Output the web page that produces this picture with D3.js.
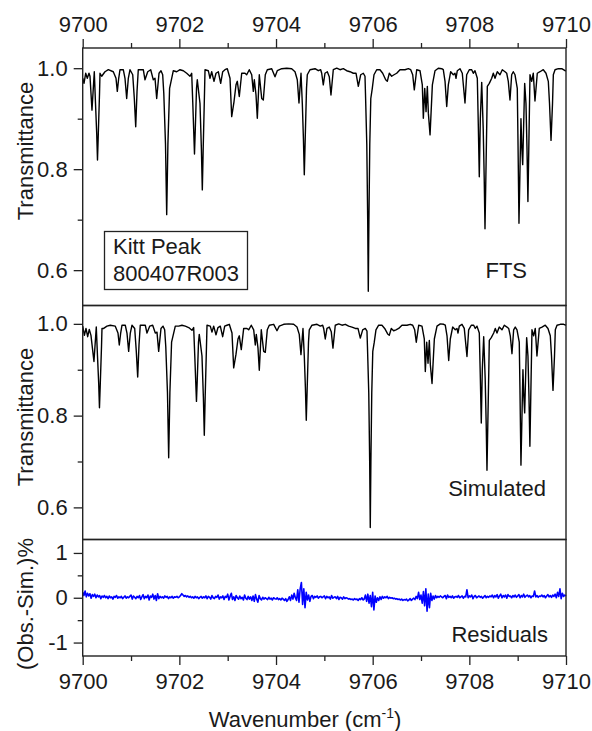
<!DOCTYPE html>
<html>
<head>
<meta charset="utf-8">
<script src="https://cdn.jsdelivr.net/npm/d3@7"></script>
<style>
  body { margin: 0; background: #fff; }
  svg { display: block; font-family: 'Liberation Sans', Arial, sans-serif; }
</style>
</head>
<body>
<svg width="592" height="731"></svg>
<script>
const xTicks = [9700, 9702, 9704, 9706, 9708, 9710]
const xMinor = [9701, 9703, 9705, 9707, 9709]
const tTicks = [0.6, 0.8, 1.0]
const tMinor = [0.7, 0.9]
const rTicks = [-1, 0, 1]
const rMinor = [-0.5, 0.5]

// observed FTS spectrum, [wavenumber, transmittance]
const ftsSpectrum = [
  [9700.000, 0.980], [9700.027, 0.970], [9700.062, 0.990], [9700.095, 0.980], [9700.130, 0.990],
  [9700.151, 0.984], [9700.192, 0.917], [9700.240, 0.993], [9700.265, 0.930], [9700.290, 0.870],
  [9700.306, 0.818], [9700.323, 0.870], [9700.348, 0.950], [9700.358, 0.990], [9700.393, 0.984],
  [9700.461, 0.993], [9700.530, 0.997], [9700.633, 0.993], [9700.689, 0.980], [9700.716, 0.954],
  [9700.745, 0.980], [9700.772, 0.997], [9700.840, 0.997], [9700.875, 0.980], [9700.910, 0.940],
  [9700.944, 0.980], [9700.979, 0.997], [9701.035, 0.987], [9701.068, 0.940], [9701.097, 0.884],
  [9701.124, 0.954], [9701.150, 0.997], [9701.254, 0.997], [9701.289, 0.977], [9701.345, 0.993],
  [9701.407, 0.997], [9701.461, 0.977], [9701.496, 0.980], [9701.531, 0.940], [9701.579, 0.990],
  [9701.620, 0.995], [9701.655, 0.987], [9701.678, 0.950], [9701.713, 0.850], [9701.738, 0.710],
  [9701.763, 0.850], [9701.798, 0.960], [9701.875, 0.995], [9701.945, 0.993], [9702.013, 0.997],
  [9702.082, 0.995], [9702.152, 0.990], [9702.220, 0.984], [9702.255, 0.990], [9702.278, 0.930],
  [9702.299, 0.870], [9702.313, 0.830], [9702.330, 0.880], [9702.355, 0.960], [9702.371, 0.977],
  [9702.427, 0.930], [9702.456, 0.840], [9702.475, 0.759], [9702.493, 0.840], [9702.520, 0.950],
  [9702.531, 0.997], [9702.599, 0.995], [9702.634, 0.980], [9702.669, 0.993], [9702.717, 0.974],
  [9702.758, 0.990], [9702.806, 0.993], [9702.855, 0.970], [9702.897, 0.993], [9702.944, 0.997],
  [9702.992, 0.999], [9703.048, 0.980], [9703.083, 0.904], [9703.131, 0.934], [9703.172, 0.967],
  [9703.199, 0.974], [9703.240, 0.944], [9703.290, 0.990], [9703.358, 0.990], [9703.393, 0.987],
  [9703.447, 0.997], [9703.497, 0.987], [9703.530, 0.954], [9703.551, 0.977], [9703.586, 0.947],
  [9703.613, 0.901], [9703.654, 0.987], [9703.704, 0.940], [9703.737, 0.937], [9703.778, 0.987],
  [9703.820, 0.997], [9703.911, 0.999], [9703.979, 0.983], [9704.026, 0.995], [9704.118, 0.999],
  [9704.221, 1.000], [9704.324, 0.999], [9704.393, 0.993], [9704.440, 0.977], [9704.475, 0.931],
  [9704.517, 0.990], [9704.544, 0.930], [9704.567, 0.860], [9704.585, 0.789], [9704.604, 0.860],
  [9704.631, 0.960], [9704.647, 0.987], [9704.703, 0.997], [9704.807, 0.999], [9704.875, 0.995],
  [9704.924, 0.997], [9704.945, 0.990], [9704.978, 0.967], [9705.013, 0.990], [9705.061, 0.993],
  [9705.102, 0.983], [9705.137, 0.947], [9705.185, 0.997], [9705.256, 1.000], [9705.324, 0.997],
  [9705.392, 0.999], [9705.462, 0.995], [9705.531, 0.993], [9705.599, 0.990], [9705.655, 0.990],
  [9705.703, 0.964], [9705.752, 0.987], [9705.806, 0.990], [9705.841, 0.984], [9705.851, 0.950],
  [9705.878, 0.850], [9705.897, 0.700], [9705.909, 0.558], [9705.922, 0.700], [9705.940, 0.850],
  [9705.961, 0.940], [9705.992, 0.960], [9706.027, 0.987], [9706.083, 0.997], [9706.151, 0.997],
  [9706.207, 0.990], [9706.269, 0.977], [9706.302, 0.974], [9706.344, 0.990], [9706.393, 0.984],
  [9706.441, 0.987], [9706.497, 0.990], [9706.565, 0.997], [9706.669, 0.997], [9706.737, 0.999],
  [9706.787, 0.997], [9706.828, 0.987], [9706.861, 0.957], [9706.911, 0.997], [9706.979, 0.995],
  [9707.027, 0.967], [9707.048, 0.901], [9707.077, 0.960], [9707.104, 0.914], [9707.131, 0.964],
  [9707.152, 0.911], [9707.187, 0.868], [9707.235, 0.967], [9707.290, 0.995], [9707.358, 1.000],
  [9707.428, 0.999], [9707.461, 0.997], [9707.497, 0.974], [9707.532, 0.924], [9707.565, 0.967],
  [9707.614, 0.993], [9707.668, 0.987], [9707.703, 0.990], [9707.724, 0.980], [9707.751, 0.995],
  [9707.807, 0.999], [9707.854, 0.990], [9707.910, 0.931], [9707.945, 0.987], [9707.999, 0.997],
  [9708.049, 0.997], [9708.082, 0.990], [9708.117, 0.995], [9708.165, 0.980], [9708.187, 0.880],
  [9708.206, 0.785], [9708.227, 0.900], [9708.256, 0.972], [9708.287, 0.880], [9708.308, 0.780],
  [9708.324, 0.682], [9708.341, 0.780], [9708.362, 0.900], [9708.372, 0.964], [9708.413, 0.970],
  [9708.463, 0.980], [9708.496, 0.990], [9708.531, 0.980], [9708.578, 0.993], [9708.634, 0.987],
  [9708.682, 0.997], [9708.738, 0.993], [9708.773, 0.990], [9708.806, 0.974], [9708.841, 0.937],
  [9708.876, 0.987], [9708.909, 0.993], [9708.945, 0.987], [9708.992, 0.960], [9709.006, 0.860],
  [9709.027, 0.693], [9709.052, 0.820], [9709.068, 0.900], [9709.087, 0.840], [9709.104, 0.809],
  [9709.122, 0.880], [9709.145, 0.970], [9709.172, 0.930], [9709.193, 0.840], [9709.212, 0.736],
  [9709.230, 0.840], [9709.255, 0.987], [9709.290, 0.974], [9709.323, 0.990], [9709.358, 0.935],
  [9709.406, 0.990], [9709.462, 0.993], [9709.530, 0.997], [9709.586, 0.990], [9709.634, 0.974],
  [9709.659, 0.930], [9709.690, 0.857], [9709.721, 0.930], [9709.738, 0.987], [9709.773, 0.997],
  [9709.841, 0.999], [9709.912, 0.999], [9709.980, 0.995], [9710.000, 0.995]
]

// simulated spectrum, [wavenumber, transmittance]
const simSpectrum = [
  [9700.000, 0.995], [9700.035, 0.975], [9700.068, 0.990], [9700.103, 0.972], [9700.136, 0.988],
  [9700.171, 0.975], [9700.233, 0.918], [9700.281, 0.993], [9700.306, 0.930], [9700.331, 0.870],
  [9700.347, 0.817], [9700.364, 0.870], [9700.389, 0.950], [9700.399, 0.990], [9700.434, 0.990],
  [9700.502, 0.995], [9700.571, 0.997], [9700.674, 0.995], [9700.730, 0.980], [9700.757, 0.954],
  [9700.786, 0.980], [9700.813, 0.997], [9700.881, 0.997], [9700.916, 0.980], [9700.951, 0.940],
  [9700.985, 0.980], [9701.020, 0.997], [9701.076, 0.990], [9701.109, 0.940], [9701.138, 0.884],
  [9701.165, 0.954], [9701.191, 0.997], [9701.295, 0.997], [9701.330, 0.980], [9701.386, 0.995],
  [9701.448, 0.997], [9701.502, 0.980], [9701.537, 0.982], [9701.572, 0.940], [9701.620, 0.990],
  [9701.661, 0.995], [9701.696, 0.987], [9701.719, 0.950], [9701.754, 0.850], [9701.779, 0.708],
  [9701.804, 0.850], [9701.839, 0.960], [9701.916, 0.995], [9701.986, 0.995], [9702.054, 0.997],
  [9702.123, 0.995], [9702.193, 0.992], [9702.261, 0.986], [9702.296, 0.992], [9702.319, 0.930],
  [9702.340, 0.870], [9702.354, 0.831], [9702.371, 0.880], [9702.396, 0.960], [9702.412, 0.977],
  [9702.468, 0.930], [9702.497, 0.840], [9702.516, 0.757], [9702.534, 0.840], [9702.561, 0.950],
  [9702.572, 0.997], [9702.640, 0.995], [9702.675, 0.982], [9702.710, 0.995], [9702.758, 0.976],
  [9702.799, 0.992], [9702.847, 0.995], [9702.896, 0.972], [9702.938, 0.995], [9702.985, 0.997],
  [9703.033, 0.999], [9703.089, 0.980], [9703.124, 0.904], [9703.172, 0.934], [9703.213, 0.967],
  [9703.240, 0.974], [9703.281, 0.944], [9703.331, 0.990], [9703.399, 0.990], [9703.434, 0.987],
  [9703.488, 0.997], [9703.538, 0.987], [9703.571, 0.954], [9703.592, 0.977], [9703.627, 0.947],
  [9703.654, 0.899], [9703.695, 0.987], [9703.745, 0.940], [9703.778, 0.938], [9703.819, 0.987],
  [9703.861, 0.997], [9703.952, 0.999], [9704.020, 0.985], [9704.067, 0.995], [9704.159, 0.999],
  [9704.262, 1.000], [9704.365, 0.999], [9704.434, 0.993], [9704.481, 0.977], [9704.516, 0.933],
  [9704.558, 0.990], [9704.585, 0.930], [9704.608, 0.860], [9704.626, 0.790], [9704.645, 0.860],
  [9704.672, 0.960], [9704.688, 0.987], [9704.744, 0.997], [9704.848, 0.999], [9704.916, 0.995],
  [9704.965, 0.997], [9704.986, 0.990], [9705.019, 0.967], [9705.054, 0.990], [9705.102, 0.993],
  [9705.143, 0.983], [9705.178, 0.947], [9705.226, 0.997], [9705.297, 1.000], [9705.365, 0.997],
  [9705.433, 0.999], [9705.503, 0.995], [9705.572, 0.993], [9705.640, 0.990], [9705.696, 0.990],
  [9705.744, 0.969], [9705.793, 0.987], [9705.847, 0.990], [9705.882, 0.984], [9705.892, 0.950],
  [9705.919, 0.850], [9705.938, 0.700], [9705.950, 0.556], [9705.963, 0.700], [9705.981, 0.850],
  [9706.002, 0.940], [9706.033, 0.960], [9706.068, 0.987], [9706.124, 0.997], [9706.192, 0.997],
  [9706.248, 0.990], [9706.310, 0.978], [9706.343, 0.975], [9706.385, 0.990], [9706.434, 0.985],
  [9706.482, 0.987], [9706.538, 0.990], [9706.606, 0.997], [9706.710, 0.997], [9706.778, 0.999],
  [9706.828, 0.997], [9706.869, 0.987], [9706.902, 0.960], [9706.952, 0.997], [9707.020, 0.995],
  [9707.068, 0.967], [9707.089, 0.896], [9707.118, 0.960], [9707.145, 0.914], [9707.172, 0.964],
  [9707.193, 0.911], [9707.228, 0.870], [9707.276, 0.967], [9707.331, 0.995], [9707.399, 1.000],
  [9707.469, 0.999], [9707.502, 0.997], [9707.538, 0.974], [9707.573, 0.920], [9707.606, 0.967],
  [9707.655, 0.993], [9707.709, 0.987], [9707.744, 0.990], [9707.765, 0.980], [9707.792, 0.995],
  [9707.848, 0.999], [9707.895, 0.990], [9707.951, 0.929], [9707.986, 0.987], [9708.040, 0.997],
  [9708.090, 0.997], [9708.123, 0.990], [9708.158, 0.995], [9708.206, 0.980], [9708.228, 0.880],
  [9708.247, 0.784], [9708.268, 0.900], [9708.297, 0.972], [9708.328, 0.880], [9708.349, 0.780],
  [9708.365, 0.681], [9708.382, 0.780], [9708.403, 0.900], [9708.413, 0.964], [9708.454, 0.970],
  [9708.504, 0.980], [9708.537, 0.990], [9708.572, 0.980], [9708.619, 0.993], [9708.675, 0.987],
  [9708.723, 0.997], [9708.779, 0.993], [9708.814, 0.990], [9708.847, 0.974], [9708.882, 0.935],
  [9708.917, 0.987], [9708.950, 0.993], [9708.986, 0.987], [9709.033, 0.960], [9709.047, 0.860],
  [9709.068, 0.692], [9709.093, 0.820], [9709.109, 0.900], [9709.128, 0.840], [9709.145, 0.806],
  [9709.163, 0.880], [9709.186, 0.970], [9709.213, 0.930], [9709.234, 0.840], [9709.253, 0.733],
  [9709.271, 0.840], [9709.296, 0.987], [9709.331, 0.974], [9709.364, 0.990], [9709.399, 0.930],
  [9709.447, 0.990], [9709.503, 0.993], [9709.571, 0.997], [9709.627, 0.990], [9709.675, 0.974],
  [9709.700, 0.930], [9709.731, 0.855], [9709.762, 0.930], [9709.779, 0.987], [9709.814, 0.997],
  [9709.882, 0.999], [9709.953, 0.999], [9710.000, 0.997]
]

// residuals (Obs.-Sim.)% sampled every 0.025 cm-1 from 9700
const residStart = 9700
const residStep = 0.025
const residuals = [
  0.12, 0.05, 0.15, 0.02, 0.10, 0.04, 0.09, -0.01, 0.07, 0.03, 0.08, 0.00, 0.06, 0.02, 0.05, -0.02, 0.04, 0.01, 0.05, 0.00,
  0.03, -0.02, 0.04, 0.00, 0.02, -0.03, 0.03, 0.01, 0.05, -0.01, 0.02, 0.00, 0.03, -0.02, 0.01, 0.04, -0.01, 0.02, 0.00, 0.03,
  0.06, -0.03, 0.04, 0.01, -0.02, 0.03, 0.00, 0.05, -0.04, 0.02, 0.07, -0.02, 0.03, 0.00, 0.06, -0.05, 0.04, 0.01, 0.08, -0.03,
  0.05, -0.06, 0.09, -0.02, 0.03, 0.00, 0.02, -0.01, 0.04, 0.01, 0.03, -0.02, 0.02, 0.00, 0.03, -0.01, 0.02, 0.01, 0.03, 0.00,
  0.02, 0.05, 0.09, 0.06, 0.03, 0.05, 0.02, 0.04, 0.01, 0.03, 0.00, 0.02, -0.01, 0.03, 0.00, 0.02, -0.02, 0.01, 0.03, -0.01,
  0.02, 0.00, 0.04, -0.02, 0.03, 0.01, -0.03, 0.05, 0.00, -0.02, 0.03, 0.01, 0.06, -0.03, 0.02, 0.00, 0.04, -0.04, 0.03, 0.01,
  0.08, -0.05, 0.03, 0.10, -0.04, 0.02, -0.06, 0.05, 0.00, -0.03, 0.04, -0.02, 0.01, -0.05, 0.06, -0.01, -0.04, 0.03, -0.03, 0.02,
  -0.06, 0.04, -0.08, 0.07, -0.03, -0.10, 0.05, -0.02, -0.05, 0.01, -0.03, 0.00, -0.02, -0.04, 0.01, -0.03, -0.01, -0.05, 0.00, -0.02,
  -0.03, 0.00, -0.04, -0.02, -0.05, -0.01, -0.03, -0.06, -0.02, -0.08, -0.04, 0.02, -0.06, 0.06, -0.03, 0.10, 0.00, -0.06, 0.18, -0.10,
  0.20, 0.34, -0.15, 0.20, -0.22, 0.12, -0.05, 0.06, -0.08, 0.03, 0.05, -0.02, 0.03, 0.01, 0.04, -0.01, 0.02, 0.03, 0.00, 0.02,
  0.04, -0.02, 0.03, 0.00, 0.02, -0.03, 0.05, -0.01, 0.01, 0.02, -0.02, 0.03, -0.04, 0.01, 0.00, -0.03, 0.02, -0.02, 0.00, -0.01,
  -0.03, -0.02, -0.04, -0.03, -0.05, -0.02, -0.04, -0.03, -0.06, -0.02, -0.04, 0.00, -0.05, -0.03, 0.06, -0.08, 0.08, -0.12, 0.05, -0.20,
  0.12, -0.27, 0.04, -0.10, 0.00, -0.06, 0.02, -0.04, 0.03, -0.01, 0.02, 0.00, 0.03, -0.02, 0.01, -0.01, 0.00, -0.02, -0.01, -0.03,
  -0.02, -0.04, -0.03, -0.05, -0.03, -0.06, -0.04, -0.05, -0.03, -0.07, -0.05, -0.02, -0.06, -0.03, -0.01, -0.04, 0.03, -0.02, 0.12, -0.04,
  0.06, -0.12, 0.14, -0.18, 0.20, -0.30, 0.08, -0.22, 0.10, -0.06, 0.04, -0.03, 0.05, 0.00, 0.03, 0.01, 0.04, 0.02, 0.00, 0.03,
  0.05, -0.02, 0.06, 0.01, 0.03, 0.00, 0.04, -0.01, 0.02, 0.03, 0.01, 0.05, 0.00, 0.02, 0.04, -0.01, 0.03, 0.02, 0.18, 0.00,
  0.04, 0.02, 0.06, -0.02, 0.03, 0.05, 0.00, 0.02, 0.04, 0.01, 0.03, -0.01, 0.02, 0.05, 0.00, 0.03, 0.01, 0.04, 0.02, 0.06,
  0.00, 0.05, 0.02, 0.07, -0.01, 0.04, 0.08, 0.00, 0.05, 0.02, 0.06, -0.01, 0.07, 0.03, 0.04, 0.00, 0.05, 0.02, 0.06, 0.01,
  0.04, 0.07, 0.00, 0.05, 0.02, 0.08, 0.01, 0.04, 0.06, 0.02, 0.05, 0.00, 0.04, 0.03, 0.15, 0.02, 0.05, 0.01, 0.04, 0.03,
  0.06, 0.02, 0.05, 0.00, 0.04, 0.07, 0.02, 0.05, 0.01, 0.06, 0.03, 0.08, 0.00, 0.12, 0.03, 0.20, -0.02, 0.10, 0.03, 0.06,
  0.04
]

const plotLeft = 82.7
const plotRight = 566
const fontSize = 22

const svg = d3.select('svg')

const x = d3.scaleLinear()
  .domain([9700, 9710])
  .range([plotLeft, plotRight])

// panels stacked top to bottom
const panels = [
  { top: 48, bottom: 305.5, domain: [0.53, 1.04], ticks: tTicks, minor: tMinor, fmt: d3.format('.1f'),
    data: ftsSpectrum, color: '#000', width: 1.4, label: 'Transmittance', labelY: 151, tag: 'FTS', tagX: 527, tagY: 278 },
  { top: 305.5, bottom: 539.5, domain: [0.53, 1.04], ticks: tTicks, minor: tMinor, fmt: d3.format('.1f'),
    data: simSpectrum, color: '#000', width: 1.4, label: 'Transmittance', labelY: 417, tag: 'Simulated', tagX: 546, tagY: 496 },
  { top: 539.5, bottom: 656, domain: [-1.3, 1.3], ticks: rTicks, minor: rMinor, fmt: d => String(d),
    data: residuals.map((r, i) => [residStart + i * residStep, r]), color: '#0000ff', width: 1.6,
    label: '(Obs.-Sim.)%', labelY: 604, tag: 'Residuals', tagX: 548, tagY: 642 }
]

function cleanAxis(g) {
  g.attr('font-size', null).attr('font-family', null)
  g.select('.domain').remove()
  g.selectAll('.tick line').attr('stroke', '#222').attr('stroke-width', 1.3)
  g.selectAll('.tick text').attr('fill', '#1a1a1a').style('font-size', fontSize + 'px')
}

panels.forEach(p => {
  const y = d3.scaleLinear()
    .domain(p.domain)
    .range([p.bottom, p.top])

  const line = d3.line()
    .x(d => x(d[0]))
    .y(d => y(d[1]))

  svg.append('path')
    .datum(p.data)
    .attr('fill', 'none')
    .attr('stroke', p.color)
    .attr('stroke-width', p.width)
    .attr('stroke-linejoin', 'round')
    .attr('d', line)

  svg.append('g')
    .attr('transform', `translate(${plotLeft},0)`)
    .call(d3.axisLeft(y).tickValues(p.ticks).tickFormat(p.fmt).tickSize(9).tickPadding(6))
    .call(cleanAxis)

  svg.append('g')
    .attr('transform', `translate(${plotLeft},0)`)
    .call(d3.axisLeft(y).tickValues(p.minor).tickFormat('').tickSize(5))
    .call(cleanAxis)

  // panel frame
  svg.append('rect')
    .attr('x', plotLeft)
    .attr('y', p.top)
    .attr('width', plotRight - plotLeft)
    .attr('height', p.bottom - p.top)
    .attr('fill', 'none')
    .attr('stroke', '#222')
    .attr('stroke-width', 1.4)

  svg.append('text')
    .attr('transform', `translate(33,${p.labelY}) rotate(-90)`)
    .attr('text-anchor', 'middle')
    .attr('fill', '#1a1a1a')
    .style('font-size', fontSize + 'px')
    .text(p.label)

  svg.append('text')
    .attr('x', p.tagX)
    .attr('y', p.tagY)
    .attr('text-anchor', 'end')
    .attr('fill', '#1a1a1a')
    .style('font-size', fontSize + 'px')
    .text(p.tag)
})

// top and bottom wavenumber axes
svg.append('g')
  .attr('transform', 'translate(0,48)')
  .call(d3.axisTop(x).tickValues(xTicks).tickFormat(d3.format('d')).tickSize(9).tickPadding(7))
  .call(cleanAxis)

svg.append('g')
  .attr('transform', 'translate(0,48)')
  .call(d3.axisTop(x).tickValues(xMinor).tickFormat('').tickSize(5))
  .call(cleanAxis)

svg.append('g')
  .attr('transform', 'translate(0,656)')
  .call(d3.axisBottom(x).tickValues(xTicks).tickFormat(d3.format('d')).tickSize(9).tickPadding(8))
  .call(cleanAxis)

svg.append('g')
  .attr('transform', 'translate(0,656)')
  .call(d3.axisBottom(x).tickValues(xMinor).tickFormat('').tickSize(5))
  .call(cleanAxis)

const xLabel = svg.append('text')
  .attr('x', 305)
  .attr('y', 727)
  .attr('text-anchor', 'middle')
  .attr('fill', '#1a1a1a')
  .style('font-size', fontSize + 'px')

xLabel.append('tspan').text('Wavenumber (cm')
xLabel.append('tspan').attr('dy', -9).style('font-size', '14px').text('-1')
xLabel.append('tspan').attr('dy', 9).text(')')

// sample box
svg.append('rect')
  .attr('x', 104.5)
  .attr('y', 231.5)
  .attr('width', 143)
  .attr('height', 58)
  .attr('fill', '#fff')
  .attr('stroke', '#222')
  .attr('stroke-width', 1.3)

svg.append('text')
  .attr('x', 113)
  .attr('y', 254)
  .attr('fill', '#1a1a1a')
  .style('font-size', fontSize + 'px')
  .text('Kitt Peak')

svg.append('text')
  .attr('x', 113)
  .attr('y', 281)
  .attr('fill', '#1a1a1a')
  .style('font-size', fontSize + 'px')
  .text('800407R003')
</script>
</body>
</html>
